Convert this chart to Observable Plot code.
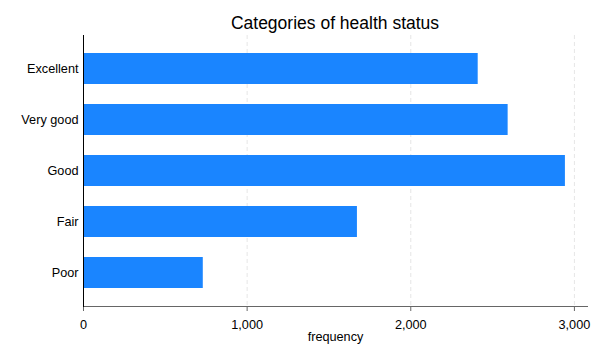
<!DOCTYPE html>
<html>
<head>
<meta charset="utf-8">
<script src="https://cdn.jsdelivr.net/npm/d3@7"></script>
<script src="https://cdn.jsdelivr.net/npm/@observablehq/plot@0.6"></script>
<style>
  html, body { margin: 0; padding: 0; background: #fff; }
  #title {
    box-sizing: border-box;
    height: 35px;
    margin-left: 83px;
    width: 504px;
    padding-top: 15px;
    line-height: 17px;
    font-family: "Liberation Sans", Arial, sans-serif;
    font-size: 17.5px;
    text-align: center;
    color: #000;
    white-space: nowrap;
  }
  svg { display: block; }
</style>
</head>
<body>
<div id="title">Categories of health status</div>
<div id="chart"></div>
<script>
const categories = ["Excellent", "Very good", "Good", "Fair", "Poor"];
const frequencies = [2412, 2595, 2945, 1674, 732];
const xTicks = [0, 1000, 2000, 3000];
const xLabel = "frequency";

const data = categories.map((c, i) => ({category: c, frequency: frequencies[i]}));

const chart = Plot.plot({
  width: 600,
  height: 325,
  marginLeft: 83,
  marginRight: 13,
  marginTop: 0,
  marginBottom: 54,
  style: {fontFamily: "'Liberation Sans', Arial, sans-serif", fontSize: "12.7px", color: "#000", background: "#fff"},
  x: {domain: [0, 3080]},
  y: {domain: categories, paddingInner: 0.4, paddingOuter: 0.35},
  marks: [
    Plot.ruleX(xTicks.filter(d => d > 0), {stroke: "#e6e6e6", strokeWidth: 1, strokeDasharray: "4,3"}),
    Plot.barX(data, {x: "frequency", y: "category", fill: "#1a85ff"}),
    Plot.axisY({tickSize: 0, tickPadding: 5, label: null, fill: "#000"}),
    Plot.axisX({ticks: xTicks, tickFormat: d3.format(","), tickSize: 5, tickPadding: 8, label: null, stroke: "#666", fill: "#000"}),
    Plot.frame({anchor: "bottom", stroke: "#666"}),
    Plot.frame({anchor: "left", stroke: "#000"}),
    Plot.text([xLabel], {text: d => d, frameAnchor: "bottom", dy: 34, fill: "#000", fontSize: 12.7})
  ]
});
document.getElementById("chart").appendChild(chart);
</script>
</body>
</html>
